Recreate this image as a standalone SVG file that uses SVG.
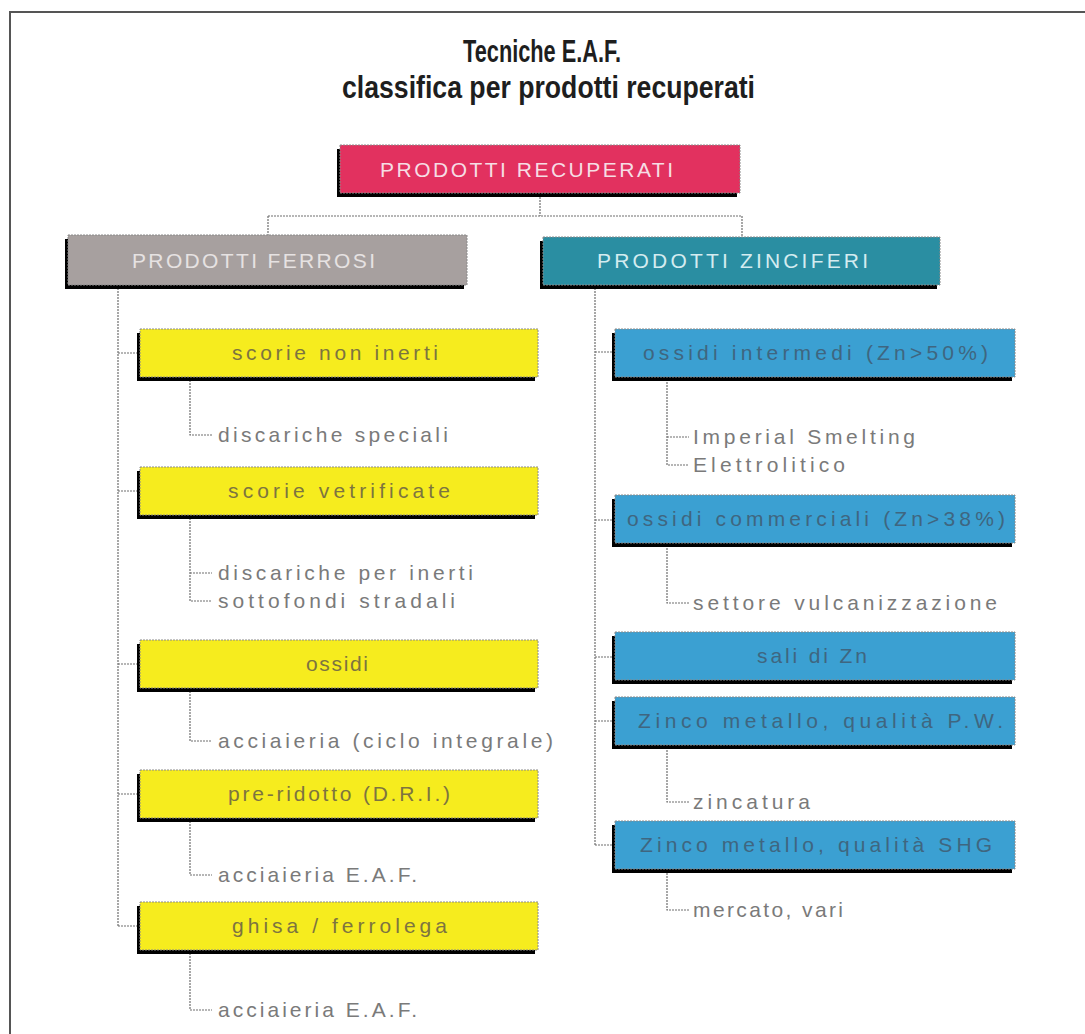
<svg xmlns="http://www.w3.org/2000/svg" width="1085" height="1034" viewBox="0 0 1085 1034">
<style>
.title{font-family:"Liberation Sans",Arial,sans-serif;font-weight:bold;font-size:31px;fill:#1e1e1e;text-anchor:start}
.hdr{font-family:"Liberation Sans",Arial,sans-serif;font-size:21px}
.bt{font-family:"Liberation Sans",Arial,sans-serif;font-size:21px}
.sub{font-family:"Liberation Sans",Arial,sans-serif;font-size:21px;fill:#7a7a7a}
.shadow{fill:#000}
.box{stroke:#8a8a8a;stroke-width:1;stroke-dasharray:2 1}
.yel{fill:#f6ec1e}
.blu{fill:#3ba0d2}
.ytx{fill:#7d7440}
.btx{fill:#3f6680}
.conn{fill:none;stroke:#6e6e6e;stroke-width:1.2;stroke-dasharray:2 1}
</style>
<rect x="0" y="0" width="1085" height="1034" fill="#fff"/>
<rect x="10" y="12" width="1100" height="1100" fill="none" stroke="#555" stroke-width="2"/>
<text class="title" x="463" y="62" textLength="158" lengthAdjust="spacingAndGlyphs">Tecniche E.A.F.</text>
<text class="title" x="342" y="98" textLength="413" lengthAdjust="spacingAndGlyphs">classifica per prodotti recuperati</text>

<g id="connectors">
<path class="conn" d="M540,194 V216 M268,216 H742 M268,216 V235 M742,216 V237"/>
<path class="conn" d="M118,285 V926 M118,353 H140 M118,491 H140 M118,664 H140 M118,794 H140 M118,926 H140"/>
<path class="conn" d="M190,377 V435 H212 M190,515 V601 H212 M190,573 H212 M190,688 V741 H212 M190,818 V875 H212 M190,950 V1010 H212"/>
<path class="conn" d="M595,285 V845 M595,352 H615 M595,520 H615 M595,657 H615 M595,721 H615 M595,845 H615"/>
<path class="conn" d="M667,379 V465 H689 M667,437 H689 M667,545 V603 H689 M667,747 V802 H689 M667,870 V910 H689"/>
</g>

<g id="n-root">
<rect class="shadow" x="337" y="149" width="400" height="48"/>
<rect class="box" x="340" y="145" width="400" height="48" fill="#e2315f"/>
<text class="hdr" x="380" y="177" textLength="293" lengthAdjust="spacing" fill="#f6dde4">PRODOTTI RECUPERATI</text>
</g>
<g id="n-ferrosi">
<rect class="shadow" x="65" y="239" width="399" height="50"/>
<rect class="box" x="68" y="235" width="399" height="50" fill="#a7a09f"/>
<text class="hdr" x="132" y="268" textLength="243" lengthAdjust="spacing" fill="#e6e2e2">PRODOTTI FERROSI</text>
</g>
<g id="n-zinciferi">
<rect class="shadow" x="540" y="241" width="397" height="48"/>
<rect class="box" x="543" y="237" width="397" height="48" fill="#2a8ea2"/>
<text class="hdr" x="597" y="268" textLength="271" lengthAdjust="spacing" fill="#d4ecf0">PRODOTTI ZINCIFERI</text>
</g>

<g id="n-scorie-non-inerti">
<rect class="shadow" x="137" y="333" width="398" height="48"/>
<rect class="box yel" x="140" y="329" width="398" height="48"/>
<text class="bt ytx" x="232" y="360" textLength="206" lengthAdjust="spacing">scorie non inerti</text>
</g>
<g id="t-discariche-speciali"><text class="sub" x="218" y="442" textLength="230" lengthAdjust="spacing">discariche speciali</text></g>

<g id="n-scorie-vetrificate">
<rect class="shadow" x="137" y="471" width="398" height="48"/>
<rect class="box yel" x="140" y="467" width="398" height="48"/>
<text class="bt ytx" x="228" y="498" textLength="222" lengthAdjust="spacing">scorie vetrificate</text>
</g>
<g id="t-discariche-inerti"><text class="sub" x="218" y="580" textLength="255" lengthAdjust="spacing">discariche per inerti</text></g>
<g id="t-sottofondi"><text class="sub" x="218" y="608" textLength="237" lengthAdjust="spacing">sottofondi stradali</text></g>

<g id="n-ossidi">
<rect class="shadow" x="137" y="644" width="398" height="48"/>
<rect class="box yel" x="140" y="640" width="398" height="48"/>
<text class="bt ytx" x="306" y="671" textLength="62" lengthAdjust="spacing">ossidi</text>
</g>
<g id="t-acciaieria-ciclo"><text class="sub" x="218" y="748" textLength="335" lengthAdjust="spacing">acciaieria (ciclo integrale)</text></g>

<g id="n-preridotto">
<rect class="shadow" x="137" y="774" width="398" height="48"/>
<rect class="box yel" x="140" y="770" width="398" height="48"/>
<text class="bt ytx" x="228" y="801" textLength="222" lengthAdjust="spacing">pre-ridotto (D.R.I.)</text>
</g>
<g id="t-acciaieria-eaf1"><text class="sub" x="218" y="882" textLength="199" lengthAdjust="spacing">acciaieria E.A.F.</text></g>

<g id="n-ghisa">
<rect class="shadow" x="137" y="906" width="398" height="48"/>
<rect class="box yel" x="140" y="902" width="398" height="48"/>
<text class="bt ytx" x="232" y="933" textLength="215" lengthAdjust="spacing">ghisa / ferrolega</text>
</g>
<g id="t-acciaieria-eaf2"><text class="sub" x="218" y="1017" textLength="199" lengthAdjust="spacing">acciaieria E.A.F.</text></g>

<g id="n-ossidi-intermedi">
<rect class="shadow" x="612" y="333" width="400" height="48"/>
<rect class="box blu" x="615" y="329" width="400" height="48"/>
<text class="bt btx" x="643" y="360" textLength="345" lengthAdjust="spacing">ossidi intermedi (Zn&gt;50%)</text>
</g>
<g id="t-imperial"><text class="sub" x="693" y="444" textLength="222" lengthAdjust="spacing">Imperial Smelting</text></g>
<g id="t-elettrolitico"><text class="sub" x="693" y="472" textLength="152" lengthAdjust="spacing">Elettrolitico</text></g>

<g id="n-ossidi-commerciali">
<rect class="shadow" x="612" y="499" width="400" height="48"/>
<rect class="box blu" x="615" y="495" width="400" height="48"/>
<text class="bt btx" x="627" y="526" textLength="378" lengthAdjust="spacing">ossidi commerciali (Zn&gt;38%)</text>
</g>
<g id="t-vulcanizzazione"><text class="sub" x="693" y="610" textLength="304" lengthAdjust="spacing">settore vulcanizzazione</text></g>

<g id="n-sali">
<rect class="shadow" x="612" y="636" width="400" height="48"/>
<rect class="box blu" x="615" y="632" width="400" height="48"/>
<text class="bt btx" x="757" y="663" textLength="110" lengthAdjust="spacing">sali di Zn</text>
</g>

<g id="n-zinco-pw">
<rect class="shadow" x="612" y="701" width="400" height="48"/>
<rect class="box blu" x="615" y="697" width="400" height="48"/>
<text class="bt btx" x="638" y="728" textLength="365" lengthAdjust="spacing">Zinco metallo, qualità P.W.</text>
</g>
<g id="t-zincatura"><text class="sub" x="693" y="809" textLength="117" lengthAdjust="spacing">zincatura</text></g>

<g id="n-zinco-shg">
<rect class="shadow" x="612" y="825" width="400" height="48"/>
<rect class="box blu" x="615" y="821" width="400" height="48"/>
<text class="bt btx" x="640" y="852" textLength="352" lengthAdjust="spacing">Zinco metallo, qualità SHG</text>
</g>
<g id="t-mercato"><text class="sub" x="693" y="917" textLength="150" lengthAdjust="spacing">mercato, vari</text></g>
</svg>
